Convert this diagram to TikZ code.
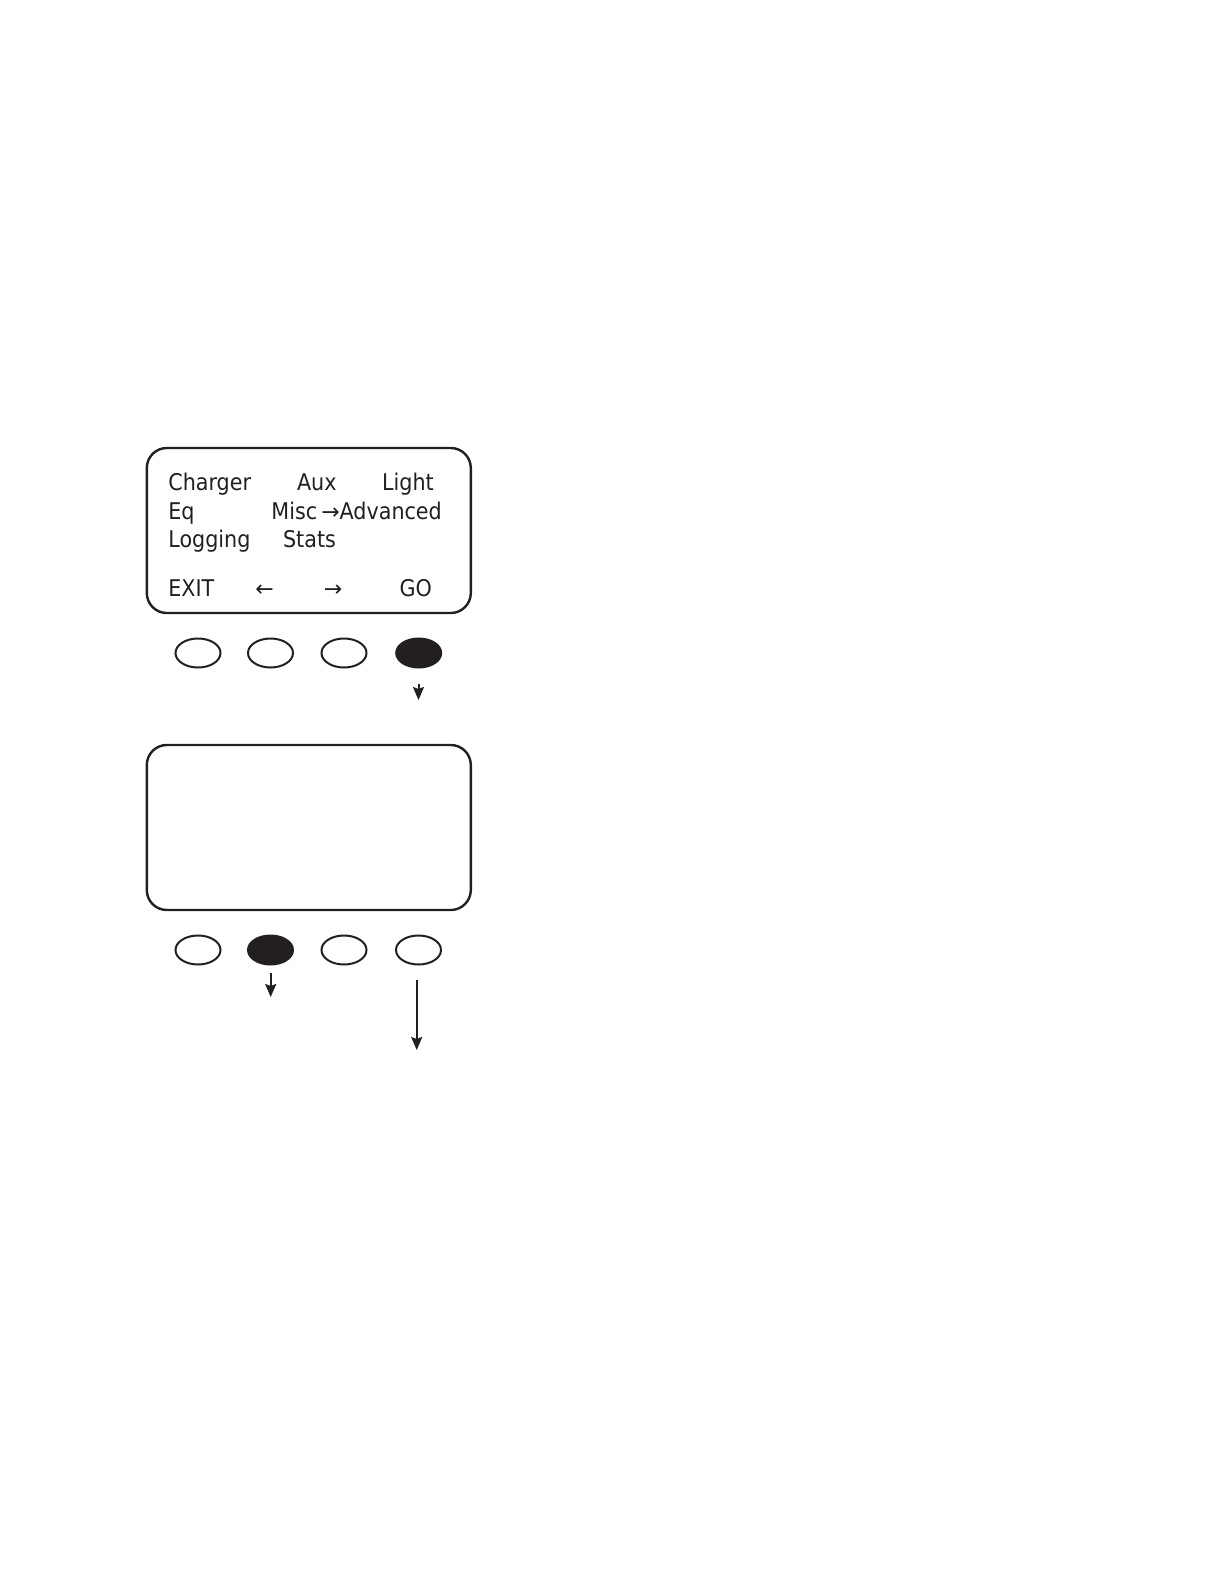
\documentclass[tikz,border=0pt]{standalone}
\usepackage{fontspec}
\setmainfont{DejaVu Sans Condensed}
\newfontfamily\symfont{DejaVu Sans}
\usetikzlibrary{arrows.meta,shapes.geometric}
\definecolor{ink}{RGB}{35,31,32}
\begin{document}
\begin{tikzpicture}[x=0.5pt,y=-0.5pt,
  lbl/.style={anchor=base west, inner sep=0pt, text=ink, font=\fontsize{11.5}{14}\selectfont},
  sym/.style={anchor=base west, inner sep=0pt, text=ink, font=\symfont\fontsize{11}{14}\selectfont},
  screen/.style={draw=ink, line width=1.2pt, rounded corners=10pt, minimum width=162pt, minimum height=82.5pt, inner sep=0pt},
  btn/.style={draw=ink, ellipse, line width=1pt, minimum width=22.5pt, minimum height=14.5pt, inner sep=0pt},
  pressed/.style={btn, fill=ink},
  arr/.style={draw=ink, -{Stealth[length=6.5pt,width=5.5pt,inset=1pt]}, line width=1pt}]
\useasboundingbox (0,0) rectangle (1224,1584);
% screen 1
\node[screen] (s1) at (308.8,530.5) {};
\node[lbl] (t1) at (168,490.5) {Charger};
\node[lbl] (t2) at (296.7,490.5) {Aux};
\node[lbl] (t3) at (381.7,490.5) {Light};
\node[lbl] (t4) at (168,519) {Eq};
\node[lbl] (t5) at (271,519) {Misc};
\node[sym] (t6) at (321,519) {→};
\node[lbl] (t7) at (339.3,519) {Advanced};
\node[lbl] (t8) at (168,547.7) {Logging};
\node[lbl] (t9) at (282.7,547.7) {Stats};
\node[lbl] (t10) at (168,596) {EXIT};
\node[sym] (t11) at (255,596) {←};
\node[sym] (t12) at (323.5,596) {→};
\node[lbl] (t13) at (399.3,596) {GO};
% buttons 1
\node[btn] (b11) at (198,653) {};
\node[btn] (b12) at (270.5,653) {};
\node[btn] (b13) at (344,653) {};
\node[pressed] (b14) at (418.7,653) {};
\coordinate (a1s) at (418.5,684);
\coordinate (a1e) at (418.5,700);
\draw[arr] (a1s) -- (a1e);
% screen 2
\node[screen] (s2) at (308.8,827.5) {};
% buttons 2
\node[btn] (b21) at (198,950) {};
\node[pressed] (b22) at (270.5,950) {};
\node[btn] (b23) at (344,950) {};
\node[btn] (b24) at (418.5,950) {};
\coordinate (a2s) at (270.7,973);
\coordinate (a2e) at (270.7,997);
\draw[arr] (a2s) -- (a2e);
\coordinate (a3s) at (416.7,980);
\coordinate (a3e) at (416.7,1050);
\draw[arr] (a3s) -- (a3e);
\end{tikzpicture}
\end{document}
